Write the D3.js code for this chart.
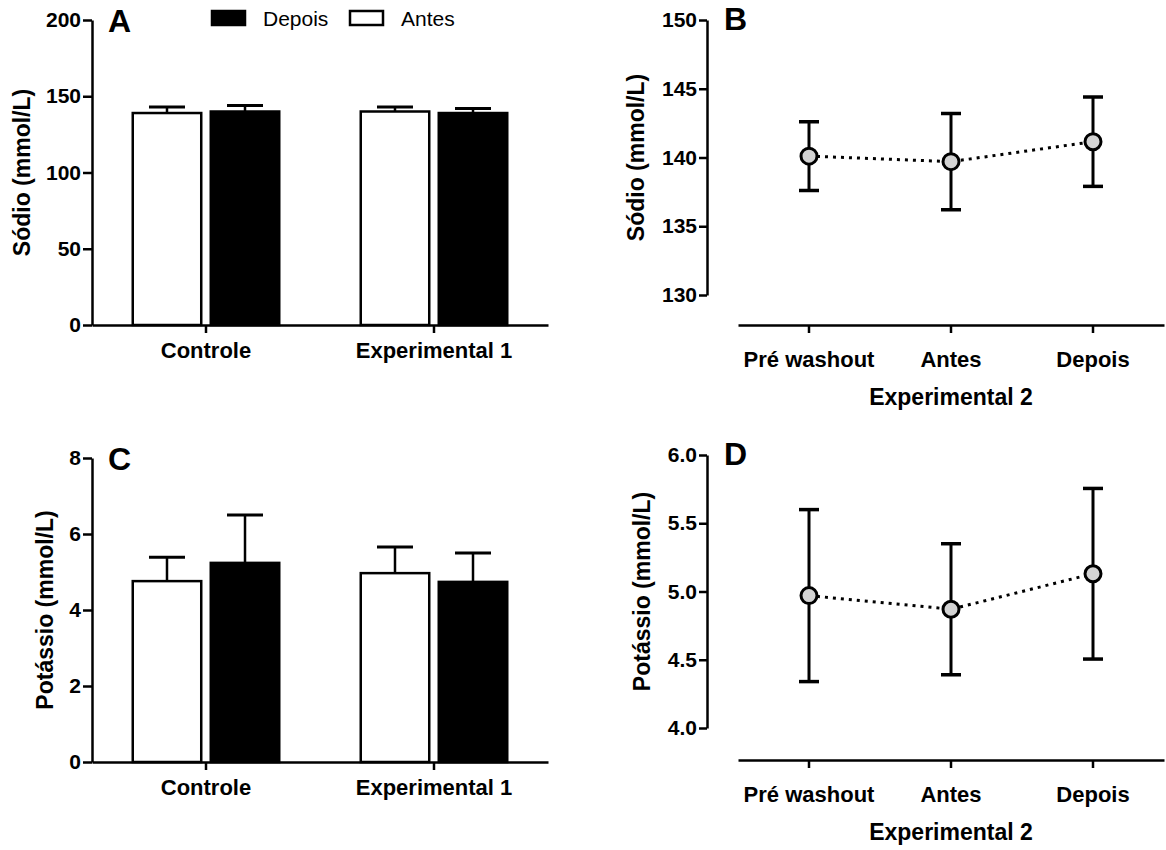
<!DOCTYPE html>
<meta charset="utf-8">
<script src="https://cdn.jsdelivr.net/npm/d3@7"></script>
<style>
body { margin: 0; background: #fff; }
text { font-family: "Liberation Sans", Arial, sans-serif; fill: #000; }
.axis path, .axis line { stroke: #000; stroke-width: 2.5px; }
.axis text { font-size: 21px; font-weight: bold; }
.cat text { font-size: 22px; }
.title { font-size: 23px; font-weight: bold; }
.letter { font-size: 32px; font-weight: bold; }
</style>
<body>
<script>

// data
var groups = ["Controle", "Experimental 1"];
var series = ["Antes", "Depois"];

var sodioAntes = [139, 140];
var sodioAntesErr = [4, 3];
var sodioDepois = [140, 139];
var sodioDepoisErr = [4, 3];

var potAntes = [4.76, 4.97];
var potAntesErr = [0.63, 0.69];
var potDepois = [5.24, 4.74];
var potDepoisErr = [1.26, 0.76];

var exp2Labels = ["Pré washout", "Antes", "Depois"];
var sodio2Mean = [140.1, 139.7, 141.15];
var sodio2Err = [2.5, 3.5, 3.25];
var pot2Mean = [4.97, 4.87, 5.13];
var pot2Err = [0.63, 0.48, 0.625];

var sodioTicks = [0, 50, 100, 150, 200];
var potTicks = [0, 2, 4, 6, 8];
var sodio2Ticks = [130, 135, 140, 145, 150];
var pot2Ticks = [4.0, 4.5, 5.0, 5.5, 6.0];

var width = 1166, height = 850;

var svg = d3.select("body").append("svg")
    .attr("width", width)
    .attr("height", height);

// ---- bar panels (A, C) ----
function barPanel(opt) {
  var g = svg.append("g");
  var x = d3.scaleBand().domain(groups).range([92, 548]).padding(0);
  var xs = d3.scaleBand().domain(series).range([-74.5, 74.5]).paddingInner(0.09);
  var y = d3.scaleLinear().domain(opt.domain).range([opt.bottom, opt.top]);

  var rows = [];
  groups.forEach(function(gr, i) {
    rows.push({g: gr, s: "Antes", v: opt.antes[i], e: opt.antesErr[i]});
    rows.push({g: gr, s: "Depois", v: opt.depois[i], e: opt.depoisErr[i]});
  });

  var bx = function(d) { return x(d.g) + x.bandwidth() / 2 + xs(d.s); };

  // error bars (upper only)
  g.selectAll("line.err").data(rows).enter().append("line")
      .attr("x1", function(d) { return bx(d) + xs.bandwidth() / 2; })
      .attr("x2", function(d) { return bx(d) + xs.bandwidth() / 2; })
      .attr("y1", function(d) { return y(d.v); })
      .attr("y2", function(d) { return y(d.v + d.e); })
      .attr("stroke", "#000").attr("stroke-width", 2.5);
  g.selectAll("line.cap").data(rows).enter().append("line")
      .attr("x1", function(d) { return bx(d) + xs.bandwidth() / 2 - 18; })
      .attr("x2", function(d) { return bx(d) + xs.bandwidth() / 2 + 18; })
      .attr("y1", function(d) { return y(d.v + d.e); })
      .attr("y2", function(d) { return y(d.v + d.e); })
      .attr("stroke", "#000").attr("stroke-width", 3);

  g.selectAll("rect.bar").data(rows).enter().append("rect")
      .attr("x", function(d) { return bx(d) + 1.25; })
      .attr("width", xs.bandwidth() - 2.5)
      .attr("y", function(d) { return y(d.v); })
      .attr("height", function(d) { return y(opt.domain[0]) - y(d.v); })
      .attr("fill", function(d) { return d.s == "Antes" ? "#fff" : "#000"; })
      .attr("stroke", "#000").attr("stroke-width", 2.5);

  g.append("g").attr("class", "axis")
      .attr("transform", "translate(92,0)")
      .call(d3.axisLeft(y).tickValues(opt.ticks).tickSize(9).tickSizeOuter(0).tickPadding(2));

  g.append("g").attr("class", "axis cat")
      .attr("transform", "translate(0," + opt.bottom + ")")
      .call(d3.axisBottom(x).tickSize(8).tickSizeOuter(0).tickPadding(9));

  g.append("text").attr("class", "title")
      .attr("transform", "translate(" + opt.titleX + "," + (opt.bottom + opt.top) / 2 + ") rotate(-90)")
      .attr("text-anchor", "middle").attr("dy", "0.35em")
      .text(opt.title);

  g.append("text").attr("class", "letter")
      .attr("x", 108).attr("y", opt.top + 12)
      .text(opt.letter);
}

barPanel({domain: [0, 200], top: 20, bottom: 325, ticks: sodioTicks,
  antes: sodioAntes, antesErr: sodioAntesErr, depois: sodioDepois, depoisErr: sodioDepoisErr,
  title: "Sódio (mmol/L)", titleX: 22, letter: "A"});

barPanel({domain: [0, 8], top: 458, bottom: 762, ticks: potTicks,
  antes: potAntes, antesErr: potAntesErr, depois: potDepois, depoisErr: potDepoisErr,
  title: "Potássio (mmol/L)", titleX: 45, letter: "C"});

// legend
var legend = svg.append("g");
var legItems = [{s: "Depois", x: 211}, {s: "Antes", x: 349}];
legend.selectAll("rect").data(legItems).enter().append("rect")
    .attr("x", function(d) { return d.x + 1; })
    .attr("y", 11)
    .attr("width", 33).attr("height", 14)
    .attr("fill", function(d) { return d.s == "Antes" ? "#fff" : "#000"; })
    .attr("stroke", "#000").attr("stroke-width", 2.5);
legend.selectAll("text").data(legItems).enter().append("text")
    .attr("x", function(d) { return d.x + 52; })
    .attr("y", 26)
    .style("font-size", "21px")
    .text(function(d) { return d.s; });

// ---- point panels (B, D) ----
function pointPanel(opt) {
  var g = svg.append("g");
  var x = d3.scaleBand().domain(exp2Labels).range([738, 1164]).padding(0);
  var y = d3.scaleLinear().domain(opt.domain).range([opt.bottom, opt.top]);
  var cx = function(d) { return x(d.l) + x.bandwidth() / 2; };

  var rows = exp2Labels.map(function(l, i) {
    return {l: l, v: opt.mean[i], e: opt.err[i]};
  });

  g.selectAll("line.err").data(rows).enter().append("line")
      .attr("x1", cx).attr("x2", cx)
      .attr("y1", function(d) { return y(d.v - d.e); })
      .attr("y2", function(d) { return y(d.v + d.e); })
      .attr("stroke", "#000").attr("stroke-width", 3);
  [-1, 1].forEach(function(sgn) {
    g.selectAll("line.cap" + sgn).data(rows).enter().append("line")
        .attr("x1", function(d) { return cx(d) - 10; })
        .attr("x2", function(d) { return cx(d) + 10; })
        .attr("y1", function(d) { return y(d.v + sgn * d.e); })
        .attr("y2", function(d) { return y(d.v + sgn * d.e); })
        .attr("stroke", "#000").attr("stroke-width", 3.5);
  });

  g.append("path").datum(rows)
      .attr("fill", "none").attr("stroke", "#000")
      .attr("stroke-width", 3).attr("stroke-dasharray", "3,5")
      .attr("d", d3.line().x(cx).y(function(d) { return y(d.v); }));

  g.selectAll("circle").data(rows).enter().append("circle")
      .attr("cx", cx)
      .attr("cy", function(d) { return y(d.v); })
      .attr("r", 8)
      .attr("fill", "#d3d3d3")
      .attr("stroke", "#000").attr("stroke-width", 3);

  g.append("g").attr("class", "axis")
      .attr("transform", "translate(707,0)")
      .call(d3.axisLeft(y).tickValues(opt.ticks).tickFormat(opt.fmt).tickSize(8).tickSizeOuter(0).tickPadding(2));

  g.append("g").attr("class", "axis cat")
      .attr("transform", "translate(0," + opt.xAxisY + ")")
      .call(d3.axisBottom(x).tickSize(8).tickSizeOuter(0).tickPadding(18));

  g.append("text").attr("class", "title")
      .attr("x", 951).attr("y", opt.xAxisY + 80)
      .attr("text-anchor", "middle")
      .text("Experimental 2");

  g.append("text").attr("class", "title")
      .attr("transform", "translate(" + opt.titleX + "," + (opt.bottom + opt.top) / 2 + ") rotate(-90)")
      .attr("text-anchor", "middle").attr("dy", "0.35em")
      .text(opt.title);

  g.append("text").attr("class", "letter")
      .attr("x", 724).attr("y", opt.top + 10)
      .text(opt.letter);
}

pointPanel({domain: [130, 150], top: 20, bottom: 295, xAxisY: 325, ticks: sodio2Ticks,
  fmt: d3.format("d"), mean: sodio2Mean, err: sodio2Err,
  title: "Sódio (mmol/L)", titleX: 636, letter: "B"});

pointPanel({domain: [4, 6], top: 455, bottom: 728, xAxisY: 760, ticks: pot2Ticks,
  fmt: d3.format(".1f"), mean: pot2Mean, err: pot2Err,
  title: "Potássio (mmol/L)", titleX: 642, letter: "D"});

</script>
</body>
